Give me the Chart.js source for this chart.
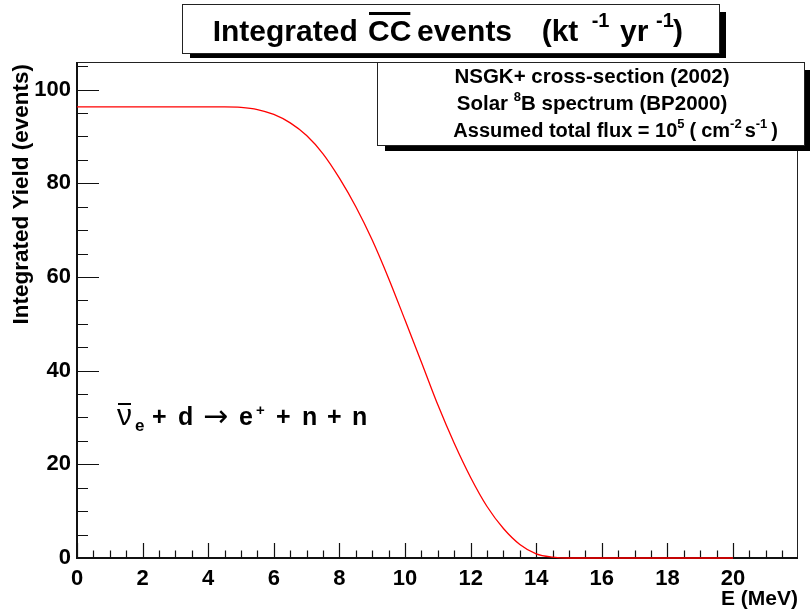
<!DOCTYPE html>
<html><head><meta charset="utf-8">
<script src="https://cdn.jsdelivr.net/npm/chart.js@4"></script>
<style>html,body{margin:0;padding:0;background:#fff;}#wrap{width:810px;height:614px;position:relative;}</style>
</head><body><div id="wrap"><canvas id="c"></canvas></div>
<script>
// ---- data ----
const energyMeV = [0,0.5,1,1.5,2,2.5,3,3.5,4,4.5,5,5.5,6,6.5,7,7.5,8,8.5,9,9.5,10,10.5,11,11.5,12,12.5,13,13.5,14,14.5,15,15.5,16,16.5,17,17.5,18,18.5,19,19.5,20];
const integratedYield = [96.3,96.3,96.3,96.3,96.3,96.3,96.3,96.3,96.3,96.3,96.2,95.75,94.7,92.9,90.2,86.3,81.1,75.0,67.9,59.7,50.8,41.8,32.7,24.5,17.2,11.0,6.3,2.9,0.9,0.2,0,0,0,0,0,0,0,0,0,0,0];
const xTickValues = [0,2,4,6,8,10,12,14,16,18,20];
const yTickValues = [0,20,40,60,80,100];
const xAxisTitle = 'E (MeV)';
const yAxisTitle = 'Integrated Yield (events)';
const infoLine1 = 'NSGK+ cross-section (2002)';
const infoLine2 = ['Solar ', '8', 'B spectrum (BP2000)'];
const infoLine3 = ['Assumed total flux = 10', '5', '(', 'cm', '-2', 's', '-1', ')'];

const FONT = '"Liberation Sans", Arial, Helvetica, sans-serif';
const points = energyMeV.map((e, i) => ({x: e, y: integratedYield[i]}));

function font(size, weight, fam) { return (weight || 'bold') + ' ' + size + 'px ' + (fam || FONT); }
function richWidth(ctx, pieces) {
  let w = 0;
  for (const p of pieces) { ctx.font = font(p.size, p.weight, p.fam); w += ctx.measureText(p.t).width + (p.gap || 0); }
  return w;
}
function drawRich(ctx, pieces, x, y) {
  ctx.textAlign = 'left'; ctx.textBaseline = 'alphabetic'; ctx.fillStyle = '#000';
  for (const p of pieces) {
    ctx.font = font(p.size, p.weight, p.fam);
    const w = ctx.measureText(p.t).width;
    ctx.fillText(p.t, x, y + (p.dy || 0));
    x += w + (p.gap || 0);
  }
  return x;
}
function txt(ctx, t, x, y, size, opts) {
  opts = opts || {};
  ctx.font = font(size, opts.weight, opts.fam);
  ctx.textAlign = opts.align || 'left'; ctx.textBaseline = 'alphabetic'; ctx.fillStyle = '#000';
  ctx.fillText(t, x, y);
  const w = ctx.measureText(t).width;
  if (opts.over) ctx.fillRect(x + (opts.over[2] || 0), opts.over[0], w - (opts.over[2] || 0) * 2, opts.over[1]);
  return w;
}
function box(ctx, x0, y0, x1, y1, sh) {
  ctx.fillStyle = '#000';
  ctx.fillRect(x0 + 8, y1, x1 - x0 + sh.r - 8, sh.b);
  ctx.fillRect(x1, y0 + 8, sh.r, y1 - y0 - 8 + sh.b);
  ctx.fillStyle = '#fff';
  ctx.fillRect(x0, y0, x1 - x0, y1 - y0);
  ctx.strokeStyle = '#222'; ctx.lineWidth = 1;
  ctx.strokeRect(x0 + 0.5, y0 + 0.5, x1 - x0 - 1, y1 - y0 - 1);
}

const decor = {
  id: 'rootDecor',
  beforeDatasetsDraw(chart) {
    const ctx = chart.ctx, xs = chart.scales.x, ys = chart.scales.y, a = chart.chartArea;
    ctx.save();
    // frame
    ctx.strokeStyle = '#222'; ctx.lineWidth = 1;
    ctx.strokeRect(a.left + 0.5, a.top + 0.5, a.right - a.left - 1, a.bottom - a.top);
    // ticks
    ctx.strokeStyle = '#111'; ctx.lineWidth = 1.2;
    ctx.beginPath();
    for (let v = 0; v <= ys.max; v += 5) {
      const y = Math.round(ys.getPixelForValue(v)) + 0.5;
      const len = (v % 20 === 0) ? 22 : 11;
      ctx.moveTo(a.left, y); ctx.lineTo(a.left + len, y);
    }
    for (let v = 0; v <= xs.max; v += 0.5) {
      const x = Math.round(xs.getPixelForValue(v)) + 0.5;
      const len = (v % 2 === 0) ? 15 : 7.5;
      ctx.moveTo(x, a.bottom); ctx.lineTo(x, a.bottom - len);
    }
    ctx.stroke();
    // axis lines
    ctx.strokeStyle = '#111'; ctx.lineWidth = 2;
    ctx.beginPath();
    ctx.moveTo(a.left, a.top); ctx.lineTo(a.left, a.bottom + 1);
    ctx.moveTo(a.left - 1, a.bottom); ctx.lineTo(a.right, a.bottom);
    ctx.stroke();
    ctx.restore();
  },
  afterDraw(chart) {
    const ctx = chart.ctx, a = chart.chartArea;
    ctx.save();
    // axis titles
    txt(ctx, xAxisTitle, a.right, 605, 21, {align: 'right'});
    ctx.save();
    ctx.translate(28, a.top + 2); ctx.rotate(-Math.PI / 2);
    txt(ctx, yAxisTitle, 0, 0, 22.5, {align: 'right'});
    ctx.restore();

    // title box
    box(ctx, 182, 4, 720, 54, {r: 6, b: 4});
    txt(ctx, 'Integrated', 212.7, 41, 30);
    txt(ctx, 'CC', 368, 41, 30, {over: [12, 3, 1]});
    txt(ctx, 'events', 417, 41, 30);
    txt(ctx, '(kt', 541.7, 41, 30);
    txt(ctx, '-1', 591.7, 27, 20);
    txt(ctx, 'yr', 620, 41, 30);
    txt(ctx, '-1', 656, 27, 20);
    txt(ctx, ')', 673, 41, 30);

    // info box
    box(ctx, 377, 62, 805, 146, {r: 6, b: 5});
    const cx = 592;
    txt(ctx, infoLine1, cx, 83, 20.5, {align: 'center'});
    const l2 = [{t: infoLine2[0], size: 20.5}, {t: infoLine2[1], size: 13, dy: -9}, {t: infoLine2[2], size: 20.5}];
    drawRich(ctx, l2, cx - richWidth(ctx, l2) / 2, 110);
    const l3 = [
      {t: infoLine3[0], size: 20}, {t: infoLine3[1], size: 13, dy: -9, gap: 5},
      {t: infoLine3[2], size: 20, gap: 5}, {t: infoLine3[3], size: 20},
      {t: infoLine3[4], size: 13, dy: -9, gap: 3}, {t: infoLine3[5], size: 20},
      {t: infoLine3[6], size: 13, dy: -9, gap: 4}, {t: infoLine3[7], size: 20}
    ];
    drawRich(ctx, l3, 778 - richWidth(ctx, l3), 137);

    // reaction label
    txt(ctx, 'ν', 117, 425, 30, {weight: 'normal', over: [403, 2, 1]});
    txt(ctx, 'e', 135, 431, 17);
    txt(ctx, '+', 152, 425, 25);
    txt(ctx, 'd', 178, 425, 25);
    txt(ctx, '→', 203, 426, 30, {weight: 'normal', fam: '"DejaVu Sans", sans-serif'});
    txt(ctx, 'e', 239, 425, 25);
    txt(ctx, '+', 256, 415, 15);
    txt(ctx, '+', 276, 425, 25);
    txt(ctx, 'n', 302, 425, 25);
    txt(ctx, '+', 327, 425, 25);
    txt(ctx, 'n', 352, 425, 25);
    ctx.restore();
  }
};

new Chart(document.getElementById('c'), {
  type: 'line',
  data: { datasets: [{ data: points, borderColor: '#ff0000', borderWidth: 1.3, pointRadius: 0, fill: false, clip: 4, cubicInterpolationMode: 'monotone' }] },
  options: {
    responsive: true, maintainAspectRatio: false, animation: false,
    layout: { padding: { left: 0, right: 12, top: 62, bottom: 0 } },
    plugins: { legend: { display: false }, tooltip: { enabled: false } },
    scales: {
      x: {
        type: 'linear', min: 0, max: 21.98,
        afterFit(s) { s.height = 56; },
        afterBuildTicks(s) { s.ticks = xTickValues.map(v => ({ value: v })); },
        grid: { display: false, drawTicks: false, tickLength: 0 }, border: { display: false },
        ticks: { autoSkip: false, maxRotation: 0, padding: 8, color: '#000', font: { family: FONT, weight: 'bold', size: 22 } }
      },
      y: {
        type: 'linear', min: 0, max: 105.9,
        afterFit(s) { s.width = 77; },
        afterBuildTicks(s) { s.ticks = yTickValues.map(v => ({ value: v })); },
        grid: { display: false, drawTicks: false, tickLength: 0 }, border: { display: false },
        ticks: { autoSkip: false, padding: 6, color: '#000', font: { family: FONT, weight: 'bold', size: 22 } }
      }
    }
  },
  plugins: [decor]
});
</script>
</body></html>
